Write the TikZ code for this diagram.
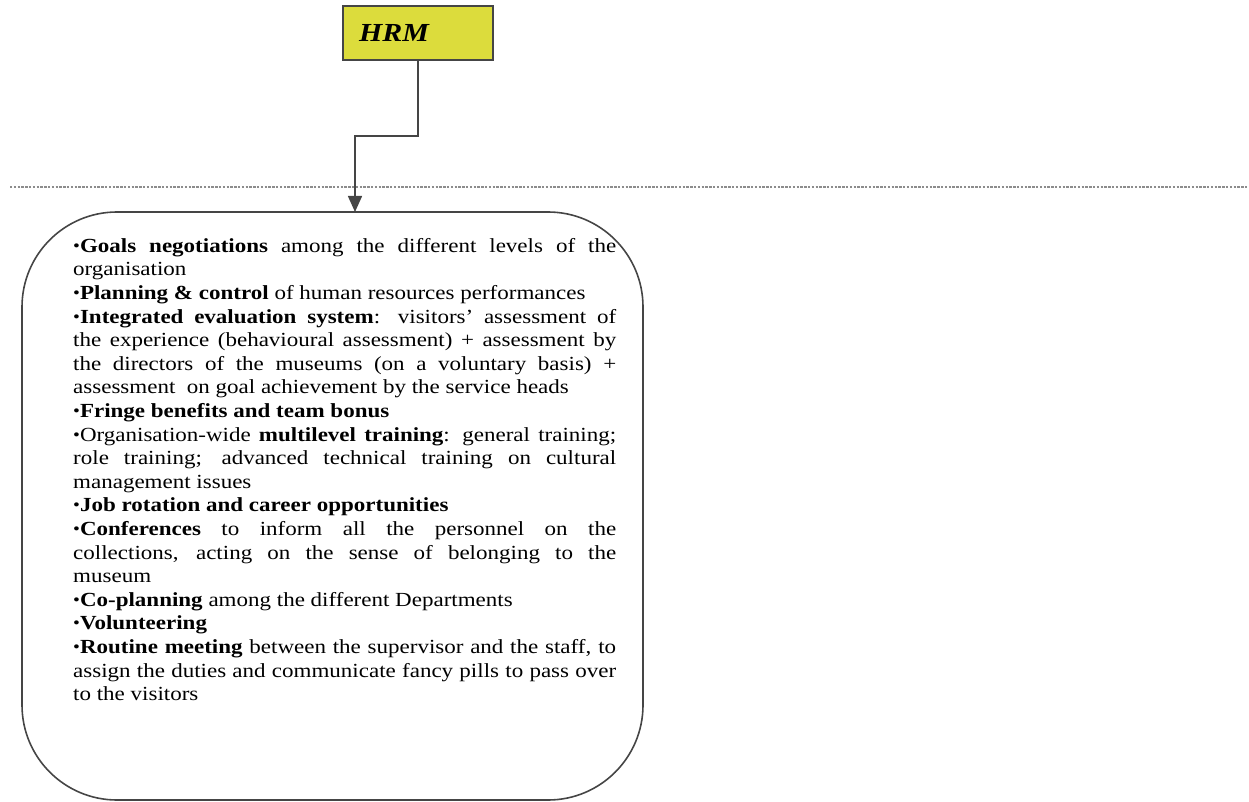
\documentclass[tikz,border=0pt]{standalone}
\usepackage{fontspec}
\setmainfont{Liberation Serif}[FakeStretch=1.15]
\usetikzlibrary{arrows.meta}
\definecolor{hrmfill}{HTML}{DCDC3C}
\definecolor{edgegray}{HTML}{454545}
\newcommand{\itembul}{\raisebox{0.1ex}{\scalebox{0.85}{\textbullet}}}
\tikzset{
  hrmbox/.style={draw=edgegray, line width=1.5pt, fill=hrmfill},
  roundbox/.style={draw=edgegray, line width=1.6pt, rounded corners=95pt},
  link/.style={draw=edgegray, line width=1.5pt, -{Triangle[length=16pt,width=14pt]}},
  divider/.style={draw=gray!90, line width=1.1pt, dash pattern=on 2.4pt off 1.4pt},
  bodytext/.style={anchor=north west, inner sep=0pt, text width=543pt, align=justify,
    font=\fontsize{20}{23.6}\selectfont}
}
\begin{document}
\begin{tikzpicture}[x=1pt,y=-1pt]
  \useasboundingbox (0,0) rectangle (1249,802);
  % top box
  \draw[hrmbox] (343,6) rectangle (493,60);
  \node[anchor=base west, inner sep=0pt, font=\fontsize{26}{30}\selectfont\bfseries\itshape] (hrm) at (359,42) {HRM};
  \coordinate (hrmout) at (418,60);
  % dashed divider
  \draw[divider] (10,187) -- (1249,187);
  % rounded practice box
  \draw[roundbox] (22,212) rectangle (643,800);
  \coordinate (boxin) at (355,212);
  \draw[link] (hrmout) -- (418,136) -- (355,136) -- (boxin);
  \node[bodytext] (list) at (73,238) {\parindent=0pt
\itembul\textbf{Goals negotiations} among the different levels of the\linebreak
organisation\par
\itembul\textbf{Planning \& control} of human resources performances\par
\itembul\textbf{Integrated evaluation system}: visitors' assessment of\linebreak
the experience (behavioural assessment) + assessment by\linebreak
the directors of the museums (on a voluntary basis) +\linebreak
assessment\ \ on goal achievement by the service heads\par
\itembul\textbf{Fringe benefits and team bonus}\par
\itembul Organisation-wide \textbf{multilevel training}: general training;\linebreak
role training; advanced technical training on cultural\linebreak
management issues\par
\itembul\textbf{Job rotation and career opportunities}\par
\itembul\textbf{Conferences} to inform all the personnel on the\linebreak
collections, acting on the sense of belonging to the\linebreak
museum\par
\itembul\textbf{Co-planning} among the different Departments\par
\itembul\textbf{Volunteering}\par
\itembul\textbf{Routine meeting} between the supervisor and the staff, to\linebreak
assign the duties and communicate fancy pills to pass over\linebreak
to the visitors\par};
\end{tikzpicture}
\end{document}
